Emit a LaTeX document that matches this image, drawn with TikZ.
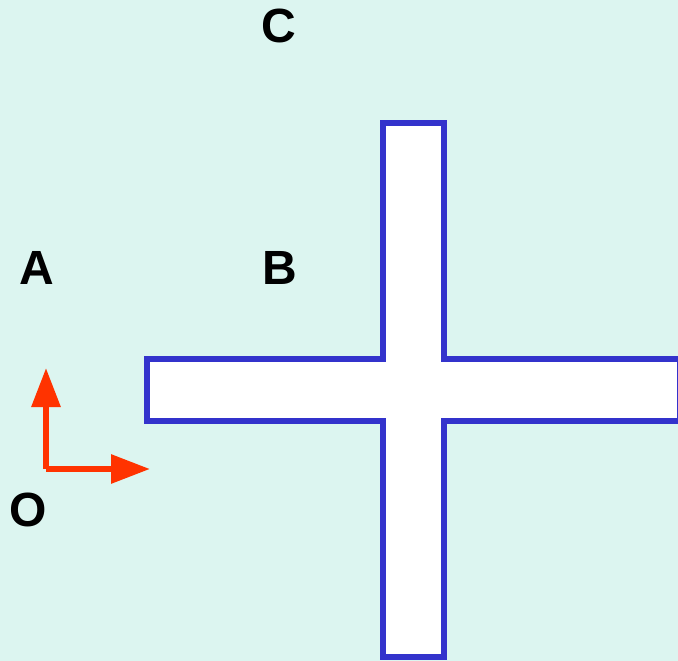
\documentclass[tikz,border=0pt]{standalone}
\usepackage{fontspec}
\setmainfont{Liberation Sans}
\usepackage{tikz}
\usetikzlibrary{arrows.meta}
\usetikzlibrary{positioning}
\definecolor{bgcyan}{HTML}{DCF5F0}
\definecolor{crossblue}{HTML}{3333CC}
\definecolor{axisred}{HTML}{FF3300}
\tikzset{
    >={Triangle[length=39pt,width=28pt]},
    label/.style={inner sep=0pt, font=\fontsize{48}{48}\selectfont\bfseries},
    axis/.style={draw=axisred, line width=6pt, ->},
    crossbar/.style={draw=crossblue, fill=white, line width=6pt, line join=miter},
}

\begin{document}
\begin{tikzpicture}[x=1pt, y=-1pt]
\fill[bgcyan] (0,0) rectangle (678,661);
\useasboundingbox (0,0) rectangle (678,661);
% the cross
\draw[crossbar] (383,123) -- (444,123) -- (444,359) -- (680,359) -- (680,421)
    -- (444,421) -- (444,657) -- (383,657) -- (383,421) -- (147,421)
    -- (147,359) -- (383,359) -- cycle;
% points
\node[label] (C) at (279,26) {C};
\node[label] (A) at (37,268) {A};
\node[label] (B) at (280,268) {B};
\node[label] (O) at (28,510) {O};
% axes
\coordinate (origin) at (46,469);
\coordinate (ytip) at (46,368);
\coordinate (xtip) at (150,469);
\draw[axis] (origin) -- (ytip);
\draw[axis] (origin) -- (xtip);
\end{tikzpicture}
\end{document}
